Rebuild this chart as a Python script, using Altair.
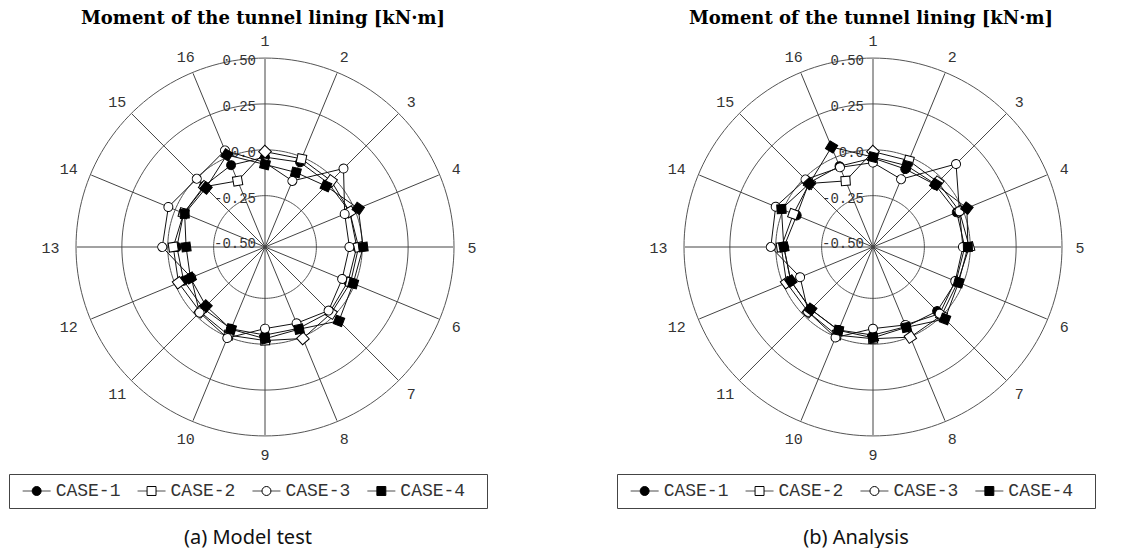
import altair as alt
import pandas as pd
import numpy as np

# ---------------- data ----------------
spokes = list(range(1, 17))
cases = ["CASE-1", "CASE-2", "CASE-3", "CASE-4"]
tick_values = [-0.50, -0.25, 0.0, 0.25, 0.50]
tick_labels = ["-0.50", "-0.25", "0.0", "0.25", "0.50"]
grid_values = [-0.25, 0.0, 0.25, 0.50]

title_text = "Moment of the tunnel lining [kN·m]"
captions = ["(a) Model test", "(b) Analysis"]

model_case1 = [-0.04, -0.03, -0.04, -0.03, -0.03, -0.04, -0.03, -0.05, -0.05, -0.047, -0.055, -0.05, -0.05, -0.05, -0.06, -0.047]
model_case2 = [-0.01, -0.01, -0.02, -0.03, -0.02, -0.025, -0.02, 0.01, -0.02, -0.01, -0.03, -0.02, -0.03, -0.05, -0.065, -0.14]
model_case3 = [-0.07, -0.14, 0.075, -0.06, -0.07, -0.075, -0.04, -0.08, -0.085, 0.007, -0.025, -0.095, 0.03, 0.04, -0.004, 0.04]
model_case4 = [-0.08, -0.09, -0.06, 0.02, 0.005, -0.01, 0.04, -0.045, -0.03, -0.045, -0.075, -0.09, -0.10, -0.056, -0.075, 0.013]

analysis_case1 = [-0.045, -0.07, -0.05, -0.036, -0.03, -0.04, -0.036, -0.06, -0.05, -0.04, -0.05, -0.045, -0.044, -0.08, -0.036, -0.053]
analysis_case2 = [-0.01, -0.02, -0.03, -0.02, -0.005, -0.03, -0.002, 0.002, -0.03, -0.01, -0.03, -0.02, -0.03, -0.06, -0.04, -0.14]
analysis_case3 = [-0.07, -0.13, 0.11, -0.02, -0.04, -0.045, -0.016, -0.07, -0.085, 0.004, -0.03, -0.10, 0.027, 0.044, -0.01, -0.06]
analysis_case4 = [-0.04, -0.05, -0.047, 0.024, -0.013, -0.025, 0.025, -0.056, -0.035, -0.038, -0.05, -0.045, -0.044, 0.01, -0.04, 0.06]

R_MIN = -0.53   # value at the centre
R_MAX = 0.50    # value at the outer circle

marker_shapes = ["circle", "square", "circle", "square"]
marker_fills = ["#000000", "#ffffff", "#ffffff", "#000000"]

# ---------------- helpers ----------------
PW = 478
PH = 430
xs = alt.Scale(domain=[-1.3545, 1.1746], nice=False, zero=False)
ys = alt.Scale(domain=[-1.138, 1.138], nice=False, zero=False)
R_EXPR = f"(datum.value - ({R_MIN})) / ({R_MAX} - ({R_MIN}))"


def X(f):
    return alt.X(f, scale=xs, axis=None)


def Y(f):
    return alt.Y(f, scale=ys, axis=None)


def radar(series, caption):
    rows = []
    for case, vals in zip(cases, series):
        for i, s in enumerate(spokes):
            rows.append({"case": case, "spoke": s, "value": vals[i], "order": i + 1})
        rows.append({"case": case, "spoke": spokes[0], "value": vals[0], "order": len(spokes) + 1})
    df = pd.DataFrame(rows)

    ang = np.arange(0, 361, 2)
    grid = pd.DataFrame([{"g": g, "a": a} for g in grid_values for a in ang])
    grid_ch = (alt.Chart(grid)
               .transform_calculate(r=f"(datum.g - ({R_MIN})) / ({R_MAX} - ({R_MIN}))")
               .transform_calculate(x="datum.r * sin(datum.a * PI / 180)")
               .transform_calculate(y="datum.r * cos(datum.a * PI / 180)")
               .mark_line(color="#555555", strokeWidth=1)
               .encode(x=X("x:Q"), y=Y("y:Q"), detail="g:N", order="a:Q"))

    sp = pd.DataFrame({"spoke": spokes, "label": [str(s) for s in spokes]})
    spoke_ch = (alt.Chart(sp)
                .transform_calculate(theta="(datum.spoke - 1) * PI / 8")
                .transform_calculate(x0="0", y0="0")
                .transform_calculate(x1="0.995 * sin(datum.theta)", y1="0.995 * cos(datum.theta)")
                .mark_rule(color="#444444", strokeWidth=1)
                .encode(x=X("x0:Q"), y=Y("y0:Q"), x2="x1:Q", y2="y1:Q"))

    spoke_lbl = (alt.Chart(sp)
                 .transform_calculate(theta="(datum.spoke - 1) * PI / 8")
                 .transform_calculate(
                     x="sin(datum.theta) * (1.095 + 0.04 * (length(datum.label) - 1) * pow(sin(datum.theta), 4))",
                     y="1.095 * cos(datum.theta)")
                 .mark_text(font="Liberation Mono", fontSize=15, color="#333333",
                            align="center", baseline="middle", dy=1)
                 .encode(x=X("x:Q"), y=Y("y:Q"), text="label:N"))

    tk = pd.DataFrame({"value": tick_values, "label": tick_labels})
    tick_lbl = (alt.Chart(tk)
                .transform_calculate(r=R_EXPR)
                .transform_calculate(x0="0")
                .mark_text(font="Liberation Mono", fontSize=14, color="#333333",
                           align="right", baseline="middle", dx=-9, dy=3)
                .encode(x=X("x0:Q"), y=Y("r:Q"), text="label:N"))

    base = (alt.Chart(df)
            .transform_calculate(r=R_EXPR)
            .transform_calculate(theta="(datum.spoke - 1) * PI / 8")
            .transform_calculate(x="datum.r * sin(datum.theta)")
            .transform_calculate(y="datum.r * cos(datum.theta)"))
    lines = base.mark_line(color="#111111", strokeWidth=1).encode(
        x=X("x:Q"), y=Y("y:Q"), detail="case:N", order="order:Q")

    pts = (base
           .transform_window(px="lag(x)", py="lag(y)", groupby=["case"],
                             sort=[alt.SortField("order")])
           .transform_filter("datum.order > 1")
           .transform_calculate(ang="((atan2(-(datum.y - datum.py), datum.x - datum.px) * 180 / PI) % 360 + 360) % 360")
           .mark_point(filled=True, stroke="#000000", strokeWidth=1, opacity=1, size=80)
           .encode(x=X("x:Q"), y=Y("y:Q"),
                   shape=alt.Shape("case:N", scale=alt.Scale(domain=cases, range=marker_shapes), legend=None),
                   color=alt.Color("case:N", scale=alt.Scale(domain=cases, range=marker_fills), legend=None),
                   angle=alt.Angle("ang:Q", scale=None)))

    chart = alt.layer(grid_ch, spoke_ch, tick_lbl, spoke_lbl, lines, pts).properties(
        width=PW, height=PH,
        title=alt.TitleParams(title_text, font="DejaVu Serif", fontSize=18, fontWeight="bold",
                              color="#000000", anchor="middle", offset=4, dx=15))

    lg = pd.DataFrame({"case": cases})
    lx = alt.X("case:N", sort=cases, axis=None,
               scale=alt.Scale(paddingInner=0, paddingOuter=0.08))
    leg_line = alt.Chart(lg).mark_tick(orient="horizontal", size=28, thickness=1,
                                       color="#000000", xOffset=-39).encode(x=lx)
    leg_pt = alt.Chart(lg).mark_point(filled=True, stroke="#000000", strokeWidth=1,
                                      opacity=1, size=80, xOffset=-39).encode(
        x=lx,
        shape=alt.Shape("case:N", scale=alt.Scale(domain=cases, range=marker_shapes), legend=None),
        color=alt.Color("case:N", scale=alt.Scale(domain=cases, range=marker_fills), legend=None))
    leg_txt = alt.Chart(lg).mark_text(font="Liberation Mono", fontSize=18, color="#333333",
                                      align="left", baseline="middle", dx=-20).encode(
        x=lx, text="case:N")
    legend = alt.layer(leg_line, leg_pt, leg_txt).properties(
        width=PW, height=34, view=alt.ViewBackground(stroke="#444444", strokeWidth=1))

    return alt.vconcat(chart, legend, spacing=10).properties(
        title=alt.TitleParams(caption, orient="bottom", font="Noto Sans", fontSize=20,
                              fontWeight="normal", color="#111111", anchor="middle", offset=19))


left = radar([model_case1, model_case2, model_case3, model_case4], captions[0])
right = radar([analysis_case1, analysis_case2, analysis_case3, analysis_case4], captions[1])

chart = (alt.hconcat(left, right, spacing=128)
         .properties(padding={"left": 0, "top": 2, "right": 0, "bottom": 0}, background="#ffffff")
         .configure_view(strokeWidth=0))

chart.save("out.html", embed_options={"renderer": "svg", "actions": False})
